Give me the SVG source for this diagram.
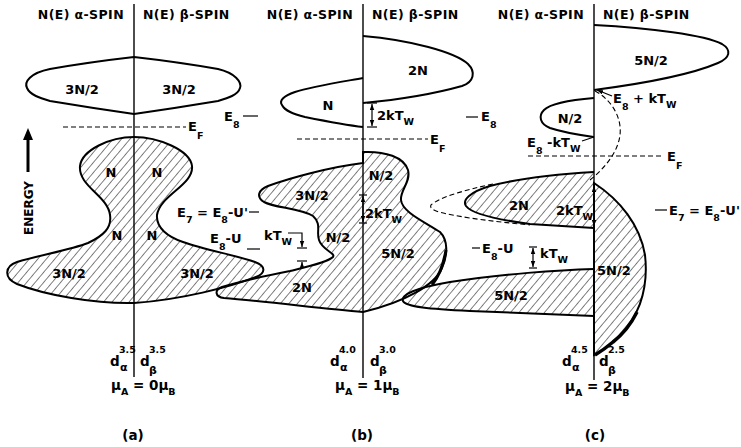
<svg xmlns="http://www.w3.org/2000/svg" width="741" height="447" viewBox="0 0 741 447">
<style>
.ax{stroke:#000;stroke-width:1.4;fill:none}
.sh{fill:none;stroke:#000;stroke-width:2}
.hs{fill:url(#h);stroke:#000;stroke-width:2}
.dl{stroke:#000;stroke-width:1.1;stroke-dasharray:5 3;fill:none}
.ln{stroke:#000;stroke-width:1.2;fill:none}
.ar{stroke:#000;stroke-width:1.2;fill:none;marker-end:url(#ah)}
.ar2{stroke:#000;stroke-width:1.2;fill:none;marker-start:url(#ah);marker-end:url(#ah)}
.t{font-family:"DejaVu Sans","Liberation Sans",sans-serif;font-size:13px;font-weight:bold;fill:#000}
.hd{font-size:12.5px;letter-spacing:0.4px}
.s{font-size:9.5px}
.m{text-anchor:middle}
.b{font-size:13.5px}
</style>
<defs>
<pattern id="h" width="6.5" height="6.5" patternUnits="userSpaceOnUse" patternTransform="rotate(40)">
<line x1="0" y1="0" x2="0" y2="6.5" stroke="#000" stroke-width="1"/>
</pattern>
<marker id="ah" viewBox="0 0 8 6" refX="8" refY="3" markerWidth="6" markerHeight="5" markerUnits="userSpaceOnUse" orient="auto-start-reverse">
<path d="M0,0 L8,3 L0,6 z" fill="#000"/>
</marker>
</defs>
<rect width="741" height="447" fill="#fff"/>

<g id="energy">
<line x1="28" y1="172" x2="28" y2="138" stroke="#000" stroke-width="3"/>
<polygon points="23,140 33,140 28,128" fill="#000"/>
<text class="t m" transform="translate(33,208) rotate(-90)" style="font-size:12px">ENERGY</text>
</g>

<g id="panel-a">
<text class="t hd" x="124" y="19" text-anchor="end">N(E) α-SPIN</text>
<text class="t hd" x="143" y="19">N(E) β-SPIN</text>
<path class="sh" d="M134,57 Q90,62 50,69 C30,73 24,82 27,88 C30,95 40,98 50,101 Q92,108 134,114 Q176,108 218,101 C228,98 238,95 240,88 C242,82 235,73 218,69 Q178,62 134,57 Z"/>
<text class="t m" x="82" y="94">3N/2</text>
<text class="t m" x="179" y="94">3N/2</text>
<path class="hs" d="M134,137 C158,137 190,150 192,166 C194,185 160,195 157,215 C156,228 168,237 183,242 C205,250 235,255 255,262 C266,266 266,273 256,277 C230,287 180,300 134,303 C95,304 45,295 17,284 C3,278 5,266 17,262 C40,255 70,250 88,243 C103,236 112,228 110,215 C108,196 78,186 80,166 C82,150 110,137 134,137 Z"/>
<text class="t m" x="111" y="177">N</text>
<text class="t m" x="157" y="177">N</text>
<text class="t m" x="117" y="240">N</text>
<text class="t m" x="152" y="240">N</text>
<text class="t m" x="69" y="278">3N/2</text>
<text class="t m" x="197" y="278">3N/2</text>
<line class="ax" x1="134" y1="4" x2="134" y2="377"/>
<text class="t b" x="110" y="366">d</text>
<text class="t s" x="119" y="353">3.5</text>
<text class="t s" x="120" y="371" style="font-size:11px">α</text>
<text class="t b" x="140" y="366">d</text>
<text class="t s" x="149" y="353">3.5</text>
<text class="t s" x="149" y="374" style="font-size:11px">β</text>
<text class="t b" x="111" y="390">μ<tspan class="s" dy="5">A</tspan><tspan dy="-5"> = 0μ</tspan><tspan class="s" dy="5">B</tspan></text>
<text class="t b m" x="133" y="440">(a)</text>
</g>

<g id="panel-b">
<text class="t hd" x="353" y="19" text-anchor="end">N(E) α-SPIN</text>
<text class="t hd" x="372" y="19">N(E) β-SPIN</text>
<path class="sh" d="M363,36 C410,40 455,52 468,64 C476,72 474,82 462,86 C430,95 395,100 363,103"/>
<text class="t m" x="418" y="75">2N</text>
<path class="sh" d="M363,78 C335,83 310,87 295,92 C283,96 279,101 282,105 C285,111 293,114 305,117 C325,121 345,125 363,127"/>
<text class="t m" x="328" y="110">N</text>
<path class="hs" d="M363,152 C385,151 404,157 408,170 C411,182 400,190 401,200 C402,212 425,222 440,232 C448,240 448,255 442,268 C435,285 405,302 363,312 C320,308 260,301 224,298 C215,297 214,290 222,287 C240,281 265,276 290,271 C310,266 328,262 333,257 C336,253 322,250 319,240 C316,232 322,224 313,216 C300,208 275,208 264,202 C256,197 258,190 268,186 C290,178 330,167 363,163 Z"/>
<path d="M446,250 C444,262 440,275 432,285" stroke="#000" stroke-width="3" fill="none"/>
<text class="t m" x="312" y="200">3N/2</text>
<text class="t m" x="338" y="242">N/2</text>
<text class="t m" x="302" y="292">2N</text>
<text class="t m" x="381" y="180">N/2</text>
<text class="t m" x="398" y="258">5N/2</text>
<line class="ax" x1="363" y1="4" x2="363" y2="378"/>
<text class="t b" x="330" y="366">d</text>
<text class="t s" x="339" y="353">4.0</text>
<text class="t s" x="340" y="371" style="font-size:11px">α</text>
<text class="t b" x="370" y="366">d</text>
<text class="t s" x="379" y="353">3.0</text>
<text class="t s" x="379" y="374" style="font-size:11px">β</text>
<text class="t b" x="335" y="390">μ<tspan class="s" dy="5">A</tspan><tspan dy="-5"> = 1μ</tspan><tspan class="s" dy="5">B</tspan></text>
<text class="t b m" x="362" y="440">(b)</text>
</g>

<g id="panel-c">
<text class="t hd" x="584" y="19" text-anchor="end">N(E) α-SPIN</text>
<text class="t hd" x="603" y="19">N(E) β-SPIN</text>
<path class="sh" d="M594,25 C650,28 705,35 722,44 C732,50 730,58 718,63 C690,75 640,84 594,90"/>
<text class="t m" x="651" y="65">5N/2</text>
<path class="sh" d="M594,98 C570,100 550,104 544,110 C538,116 540,124 550,128 C565,133 580,135 594,137"/>
<text class="t m" x="570" y="123">N/2</text>
<path class="dl" d="M595,91 C612,100 622,118 620,135 C618,152 605,168 590,180"/>
<path class="dl" d="M493,184 C465,190 440,197 431,205 C428,211 445,214 470,218 C490,221 510,223 530,225"/>
<path class="hs" d="M594,172 C560,174 520,178 490,186 C470,192 462,200 466,206 C472,214 500,220 530,224 C560,226 580,227 594,228"/>
<text class="t m" x="519" y="210">2N</text>
<path class="hs" d="M594,183 C620,200 640,225 645,255 C649,290 638,322 613,342 C606,348 600,352 594,355 Z"/>
<path d="M637,312 C630,326 622,335 613,342 C606,348 600,352 595,355" stroke="#000" stroke-width="3.5" fill="none"/>
<path class="hs" d="M594,269 C560,270 500,274 450,282 C415,288 400,295 403,301 C406,307 430,309 470,311 L594,316"/>
<text class="t m" x="511" y="300">5N/2</text>
<text class="t" x="597" y="275">5N/2</text>
<line class="ax" x1="594" y1="4" x2="594" y2="380"/>
<text class="t b" x="562" y="366">d</text>
<text class="t s" x="571" y="353">4.5</text>
<text class="t s" x="572" y="371" style="font-size:11px">α</text>
<text class="t b" x="599" y="366">d</text>
<text class="t s" x="608" y="353">2.5</text>
<text class="t s" x="608" y="374" style="font-size:11px">β</text>
<text class="t b" x="565" y="391">μ<tspan class="s" dy="5">A</tspan><tspan dy="-5"> = 2μ</tspan><tspan class="s" dy="5">B</tspan></text>
<text class="t b m" x="595" y="440">(c)</text>
</g>

<g id="levels">
<text class="t" x="224" y="121">E<tspan class="s" dy="7">8</tspan></text>
<text class="t" x="177" y="217">E<tspan class="s" dy="6">7</tspan><tspan dy="-6"> = E</tspan><tspan class="s" dy="6">8</tspan><tspan dy="-6">-U'</tspan></text>
<text class="t" x="210" y="243">E<tspan class="s" dy="7">8</tspan><tspan dy="-7">-U</tspan></text>
<text class="t" x="188" y="131">E<tspan class="s" dy="8">F</tspan></text>
<text class="t" x="377" y="120">2kT<tspan class="s" dy="5">W</tspan></text>
<text class="t" x="430" y="144">E<tspan class="s" dy="8">F</tspan></text>
<text class="t" x="365" y="218">2kT<tspan class="s" dy="5">W</tspan></text>
<text class="t" x="264" y="240">kT<tspan class="s" dy="5">W</tspan></text>
<text class="t" x="481" y="121">E<tspan class="s" dy="7">8</tspan></text>
<text class="t" x="613" y="103">E<tspan class="s" dy="7">8</tspan><tspan dy="-7"> + kT</tspan><tspan class="s" dy="5">W</tspan></text>
<text class="t" x="527" y="147">E<tspan class="s" dy="7">8</tspan><tspan dy="-7"> -kT</tspan><tspan class="s" dy="5">W</tspan></text>
<text class="t" x="667" y="161">E<tspan class="s" dy="8">F</tspan></text>
<text class="t" x="556" y="215">2kT<tspan class="s" dy="5">W</tspan></text>
<text class="t" x="669" y="215">E<tspan class="s" dy="6">7</tspan><tspan dy="-6"> = E</tspan><tspan class="s" dy="6">8</tspan><tspan dy="-6">-U'</tspan></text>
<text class="t" x="482" y="253">E<tspan class="s" dy="7">8</tspan><tspan dy="-7">-U</tspan></text>
<text class="t" x="540" y="258">kT<tspan class="s" dy="5">W</tspan></text>
</g>

<g id="connectors">
<line class="dl" x1="63" y1="127" x2="186" y2="127"/>
<line class="dl" x1="297" y1="139" x2="428" y2="139"/>
<line class="dl" x1="528" y1="156" x2="664" y2="156"/>
<line class="ln" x1="243" y1="116" x2="258" y2="116"/>
<line class="ln" x1="249" y1="212" x2="259" y2="212"/>
<line class="ln" x1="247" y1="249" x2="260" y2="249"/>
<line class="ln" x1="466" y1="117" x2="478" y2="117"/>
<line class="ln" x1="655" y1="210" x2="667" y2="210"/>
<line class="ln" x1="472" y1="248" x2="480" y2="248"/>
<line class="ar2" x1="372" y1="104" x2="372" y2="126"/>
<line class="ln" x1="367" y1="103" x2="377" y2="103"/>
<line class="ln" x1="367" y1="127" x2="377" y2="127"/>
<line class="ar2" x1="363" y1="196" x2="363" y2="222"/>
<line class="ln" x1="359" y1="195" x2="367" y2="195"/>
<line class="ln" x1="359" y1="223" x2="367" y2="223"/>
<polyline class="ar" points="288,233 302,233 302,247"/>
<line class="ln" x1="297" y1="248" x2="307" y2="248"/>
<line class="ar" x1="302" y1="268" x2="302" y2="262"/>
<line class="ln" x1="297" y1="261" x2="307" y2="261"/>
<line class="ar2" x1="594" y1="186" x2="594" y2="226"/>
<line class="ar2" x1="533" y1="248" x2="533" y2="267"/>
<line class="ln" x1="529" y1="247" x2="537" y2="247"/>
<line class="ln" x1="529" y1="268" x2="537" y2="268"/>
<line class="ar" x1="612" y1="96" x2="597" y2="90"/>
<line class="ln" x1="582" y1="141" x2="594" y2="137"/>
</g>
</svg>
